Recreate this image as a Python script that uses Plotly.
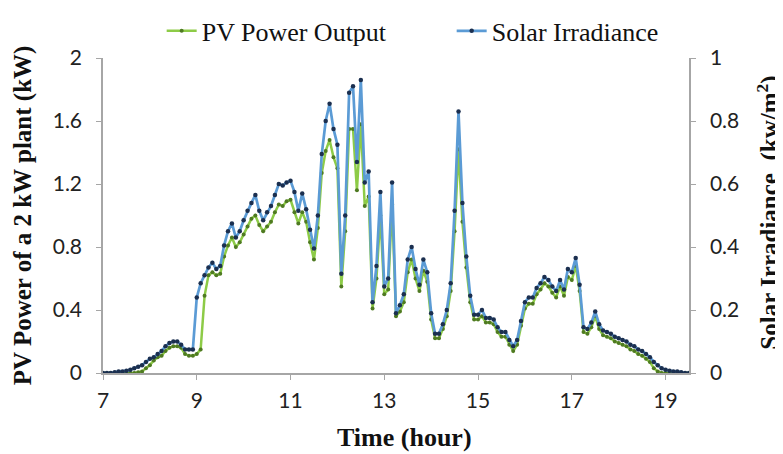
import plotly.graph_objects as go

# Time grid: 5-minute samples from 7:00 to 19:30 (hours)
hours = [7 + i / 12 for i in range(151)]

# PV power output (kW)
pv_power = [
    0, 0, 0, 0, 0, 0, 0, 0, 0, 0.005,
    0.01, 0.03, 0.05, 0.08, 0.10, 0.11, 0.14, 0.16, 0.17, 0.17,
    0.16, 0.12, 0.11, 0.11, 0.12, 0.15, 0.49, 0.62, 0.64, 0.62,
    0.63, 0.74, 0.81, 0.86, 0.80, 0.83, 0.88, 0.93, 0.98, 1.00,
    0.94, 0.90, 0.93, 0.96, 1.02, 1.07, 1.06, 1.09, 1.10, 1.02,
    0.95, 1.02, 0.96, 0.83, 0.72, 0.92, 1.27, 1.41, 1.48, 1.37,
    1.30, 0.55, 0.90, 1.55, 1.55, 1.16, 1.58, 1.06, 1.12, 0.41,
    0.60, 1.00, 0.50, 0.53, 1.07, 0.36, 0.39, 0.45, 0.64, 0.72,
    0.60, 0.52, 0.65, 0.58, 0.34, 0.22, 0.22, 0.28, 0.36, 0.52,
    0.90, 1.42, 0.96, 0.67, 0.45, 0.34, 0.34, 0.36, 0.32, 0.32,
    0.31, 0.26, 0.23, 0.23, 0.18, 0.14, 0.18, 0.30, 0.41, 0.44,
    0.44, 0.50, 0.53, 0.57, 0.55, 0.51, 0.48, 0.55, 0.49, 0.61,
    0.59, 0.68, 0.52, 0.26, 0.25, 0.29, 0.36, 0.28, 0.24, 0.23,
    0.22, 0.20, 0.19, 0.18, 0.17, 0.15, 0.14, 0.12, 0.11, 0.09,
    0.07, 0.03, 0.01, 0, 0, 0, 0, 0, 0, 0,
    0,
]

# Solar irradiance (kW/m^2)
irradiance = [
    0, 0, 0, 0.0025, 0.005, 0.005, 0.0075, 0.01, 0.015, 0.02,
    0.025, 0.035, 0.045, 0.05, 0.06, 0.07, 0.085, 0.095, 0.10, 0.10,
    0.09, 0.075, 0.075, 0.075, 0.24, 0.285, 0.31, 0.335, 0.35, 0.33,
    0.34, 0.405, 0.45, 0.475, 0.43, 0.45, 0.485, 0.515, 0.54, 0.565,
    0.515, 0.485, 0.51, 0.53, 0.565, 0.60, 0.595, 0.605, 0.61, 0.575,
    0.515, 0.57, 0.52, 0.455, 0.395, 0.50, 0.695, 0.80, 0.855, 0.775,
    0.725, 0.315, 0.50, 0.89, 0.91, 0.67, 0.93, 0.605, 0.64, 0.225,
    0.34, 0.575, 0.275, 0.30, 0.605, 0.19, 0.215, 0.25, 0.36, 0.40,
    0.33, 0.28, 0.36, 0.32, 0.19, 0.125, 0.125, 0.155, 0.20, 0.285,
    0.515, 0.83, 0.54, 0.37, 0.245, 0.185, 0.185, 0.20, 0.175, 0.175,
    0.17, 0.145, 0.13, 0.13, 0.105, 0.085, 0.105, 0.165, 0.225, 0.24,
    0.24, 0.27, 0.285, 0.305, 0.295, 0.275, 0.26, 0.295, 0.265, 0.33,
    0.32, 0.365, 0.28, 0.145, 0.14, 0.16, 0.195, 0.155, 0.135, 0.13,
    0.125, 0.115, 0.11, 0.105, 0.10, 0.09, 0.085, 0.075, 0.07, 0.06,
    0.05, 0.035, 0.025, 0.015, 0.01, 0.0075, 0.005, 0.005, 0.0025, 0,
    0,
]

x_ticks = [7, 9, 11, 13, 15, 17, 19]
y_ticks = [0, 0.4, 0.8, 1.2, 1.6, 2]
y2_ticks = [0, 0.2, 0.4, 0.6, 0.8, 1]

axis_grey = "#A6A6A6"
tick_font = dict(family="Lato, 'Open Sans', sans-serif", size=21, color="#222222")
serif = "'Liberation Serif', 'Times New Roman', serif"
title_font = dict(family=serif, size=26, color="#111111")
side_title_font = dict(family=serif, size=25, color="#111111")

fig = go.Figure()
fig.add_trace(go.Scatter(
    x=hours, y=pv_power, name="PV Power Output", mode="lines+markers",
    line=dict(color="#8DCB47", width=2.5),
    marker=dict(color="#4F7A22", size=4),
    yaxis="y",
))
fig.add_trace(go.Scatter(
    x=hours, y=irradiance, name="Solar Irradiance", mode="lines+markers",
    line=dict(color="#5B9BD5", width=2.7),
    marker=dict(color="#1B2F4F", size=4.5),
    yaxis="y2",
))

# The page body adds an 8px offset, so the figure is sized to the remaining view.
fig.update_layout(
    width=775, height=446,
    margin=dict(l=95, r=94, t=50, b=81, autoexpand=False),
    paper_bgcolor="white", plot_bgcolor="white",
    showlegend=True,
    legend=dict(
        orientation="h", x=0.595, xanchor="center", y=1.086, yanchor="middle",
        font=dict(family=serif, size=26, color="#111111"),
        itemwidth=30, entrywidth=245, bgcolor="rgba(0,0,0,0)",
    ),
    xaxis=dict(
        range=[7, 19.5], tickvals=x_ticks, showgrid=False, zeroline=False,
        showline=True, linecolor=axis_grey, linewidth=1.5,
        ticks="outside", ticklen=5, tickcolor=axis_grey, tickfont=tick_font,
        ticklabelstandoff=3,
    ),
    yaxis=dict(
        range=[0, 2], tickvals=y_ticks, showgrid=False, zeroline=False,
        showline=True, linecolor=axis_grey, linewidth=1.5,
        ticks="outside", ticklen=5, tickcolor=axis_grey, tickfont=tick_font,
        ticklabelstandoff=10,
    ),
    yaxis2=dict(
        range=[0, 1], tickvals=y2_ticks, overlaying="y", side="right",
        showgrid=False, zeroline=False,
        showline=True, linecolor=axis_grey, linewidth=1.5,
        ticks="outside", ticklen=5, tickcolor=axis_grey, tickfont=tick_font,
        ticklabelstandoff=10,
    ),
    annotations=[
        dict(text="<b>Time (hour)</b>", x=0.515, y=-0.206, xref="paper", yref="paper",
             xanchor="center", yanchor="middle", showarrow=False, font=title_font),
        dict(text="<b>PV Power of a 2 kW plant (kW)</b>", x=-0.137, y=0.5,
             xref="paper", yref="paper", xanchor="center", yanchor="middle",
             textangle=-90, showarrow=False, font=side_title_font),
        dict(text="<b>Solar Irradiance  (kw/m<sup>2</sup>)</b>", x=1.136, y=0.508,
             xref="paper", yref="paper", xanchor="center", yanchor="middle",
             textangle=-90, showarrow=False, font=side_title_font),
    ],
)

fig.write_html("out.html")
